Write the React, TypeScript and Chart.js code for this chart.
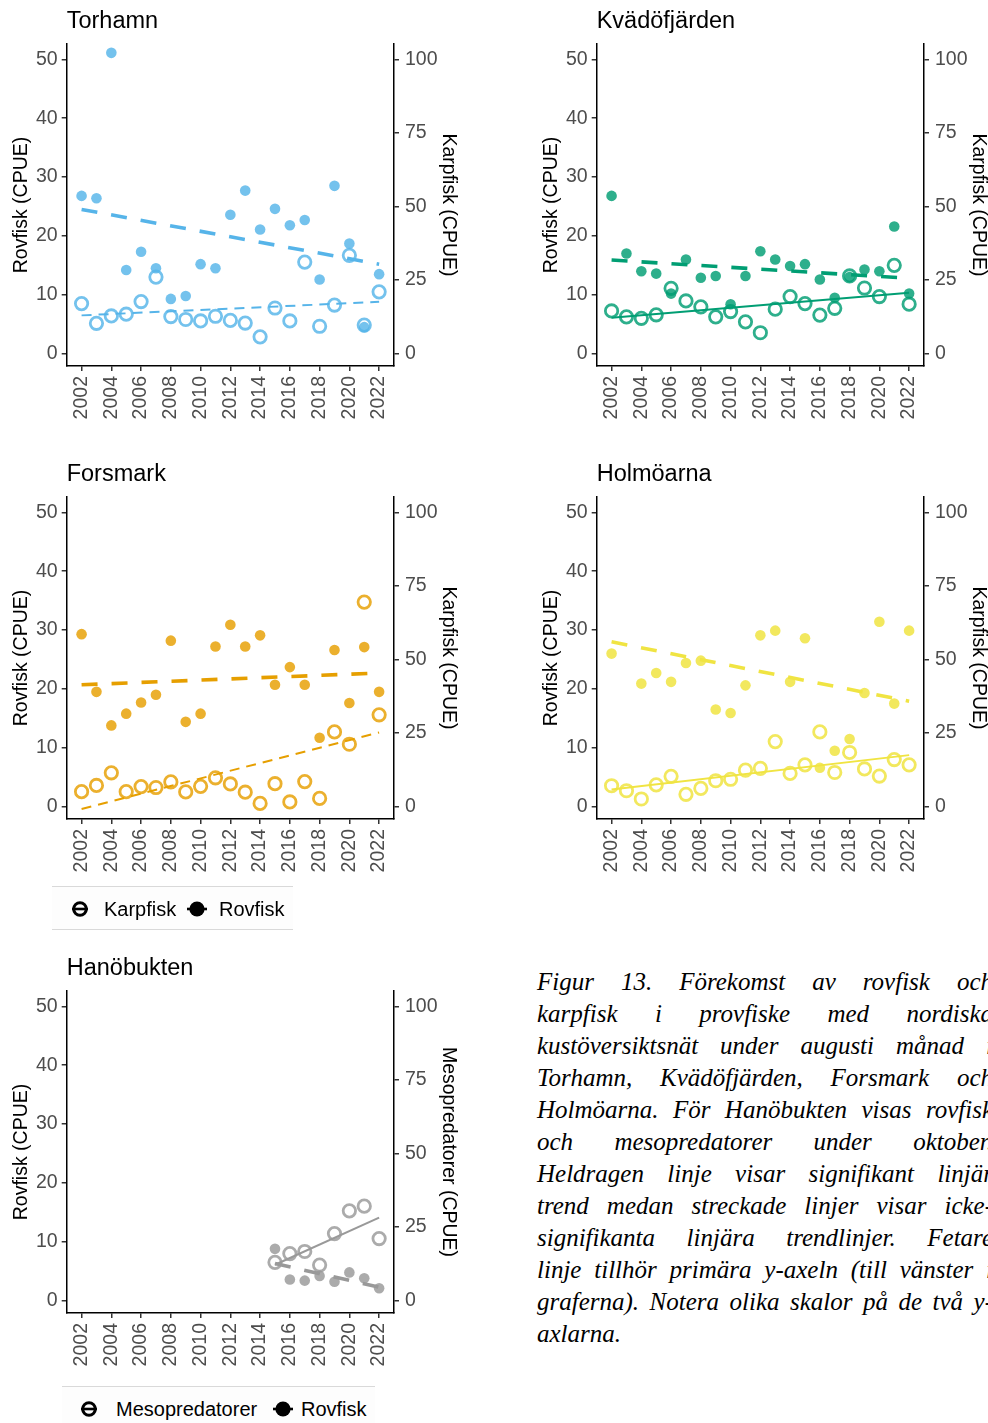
import React, { useEffect, useRef } from "react";
import { Chart, registerables } from "chart.js";

Chart.register(...registerables);

// ---------- data ----------
const years = [2002, 2003, 2004, 2005, 2006, 2007, 2008, 2009, 2010, 2011, 2012, 2013, 2014, 2015, 2016, 2017, 2018, 2019, 2020, 2021, 2022];
const hanoYears = [2015, 2016, 2017, 2018, 2019, 2020, 2021, 2022];
const yearTicks = [2002, 2004, 2006, 2008, 2010, 2012, 2014, 2016, 2018, 2020, 2022];
const leftTicks = [0, 10, 20, 30, 40, 50];
const rightTicks = [0, 25, 50, 75, 100];
const trendYears = [2002, 2022];
const hanoTrendYears = [2015, 2022];

const torhamnRovfisk = [26.8, 26.4, 51.1, 14.2, 17.3, 14.5, 9.3, 9.8, 15.2, 14.5, 23.6, 27.7, 21.1, 24.6, 21.8, 22.7, 12.6, 28.5, 18.7, 4.5, 13.5];
const torhamnKarpfisk = [17.0, 10.3, 12.8, 13.4, 17.7, 26.0, 12.6, 11.6, 11.1, 12.7, 11.3, 10.4, 5.7, 15.5, 11.1, 31.1, 9.3, 16.5, 33.4, 9.7, 21.0];
const torhamnRovTrend = [24.5, 15.2];
const torhamnKarpTrend = [13.0, 17.6];

const kvadoRovfisk = [26.8, 17.0, 14.0, 13.6, 10.2, 16.0, 12.9, 13.2, 8.4, 13.2, 17.4, 16.0, 14.9, 15.2, 12.6, 9.5, 13.0, 14.3, 14.0, 21.6, 10.2];
const kvadoKarpfisk = [14.5, 12.5, 12.0, 13.2, 22.2, 17.9, 15.9, 12.5, 14.3, 10.8, 7.1, 15.1, 19.4, 17.0, 13.1, 15.4, 26.4, 22.3, 19.4, 30.0, 16.8];
const kvadoRovTrend = [15.9, 12.8];
const kvadoKarpTrend = [12.2, 20.7];

const forsmarkRovfisk = [29.3, 19.5, 13.8, 15.8, 17.7, 19.0, 28.2, 14.4, 15.8, 27.2, 30.9, 27.2, 29.1, 20.7, 23.7, 20.7, 11.7, 26.6, 17.6, 27.1, 19.5];
const forsmarkKarpfisk = [5.1, 7.2, 11.5, 5.1, 6.8, 6.5, 8.4, 5.0, 6.9, 9.8, 7.7, 4.9, 1.1, 7.8, 1.6, 8.5, 2.8, 25.4, 21.2, 69.5, 31.2];
const forsmarkRovTrend = [20.7, 22.7];
const forsmarkKarpTrend = [-0.8, 25.2];

const holmoRovfisk = [26.0, null, 20.9, 22.7, 21.2, 24.4, 24.8, 16.5, 15.9, 20.6, 29.1, 29.9, 21.2, 28.6, 6.6, 9.5, 11.5, 19.3, 31.4, 17.5, 29.9];
const holmoKarpfisk = [7.1, 5.4, 2.6, 7.4, 10.3, 4.2, 6.2, 8.8, 9.3, 12.4, 13.0, 22.1, 11.3, 14.2, 25.4, 11.6, 18.4, 12.8, 10.4, 16.0, 14.2];
const holmoRovTrend = [28.0, 17.9];
const holmoKarpTrend = [5.8, 17.5];

const hanoRovfisk = [8.8, 3.6, 3.4, 4.2, 3.2, 4.8, 3.8, 2.1];
const hanoMeso = [13.0, 16.0, 16.7, 12.1, 22.8, 30.5, 32.1, 21.1];
const hanoRovTrend = [6.3, 2.3];
const hanoMesoTrend = [12.2, 28.2];

const captionLines = [
  "Figur 13. Förekomst av rovfisk och",
  "karpfisk i provfiske med nordiska",
  "kustöversiktsnät under augusti månad i",
  "Torhamn, Kvädöfjärden, Forsmark och",
  "Holmöarna. För Hanöbukten visas rovfisk",
  "och mesopredatorer under oktober.",
  "Heldragen linje visar signifikant linjär",
  "trend medan streckade linjer visar icke-",
  "signifikanta linjära trendlinjer. Fetare",
  "linje tillhör primära y-axeln (till vänster i",
  "graferna). Notera olika skalor på de två y-",
  "axlarna.",
];

// ---------- styling ----------
const SANS = '"Liberation Sans", Arial, sans-serif';
const CW = 494;
const CH = 440;

type Panel = {
  title: string;
  color: string;
  fill: string;
  x: number[];
  rov: (number | null)[];
  karp: (number | null)[];
  tx: number[];
  rovTrend: number[];
  karpTrend: number[];
  karpSolid: boolean;
  rightTitle: string;
  left: number;
  top: number;
};

const panels: Panel[] = [
  { title: "Torhamn", color: "#56B4E9", fill: "rgba(86,180,233,0.82)", x: years, rov: torhamnRovfisk, karp: torhamnKarpfisk, tx: trendYears, rovTrend: torhamnRovTrend, karpTrend: torhamnKarpTrend, karpSolid: false, rightTitle: "Karpfisk (CPUE)", left: 0, top: 1 },
  { title: "Kvädöfjärden", color: "#009E73", fill: "rgba(0,158,115,0.82)", x: years, rov: kvadoRovfisk, karp: kvadoKarpfisk, tx: trendYears, rovTrend: kvadoRovTrend, karpTrend: kvadoKarpTrend, karpSolid: true, rightTitle: "Karpfisk (CPUE)", left: 530, top: 1 },
  { title: "Forsmark", color: "#E69F00", fill: "rgba(230,159,0,0.82)", x: years, rov: forsmarkRovfisk, karp: forsmarkKarpfisk, tx: trendYears, rovTrend: forsmarkRovTrend, karpTrend: forsmarkKarpTrend, karpSolid: false, rightTitle: "Karpfisk (CPUE)", left: 0, top: 453.6 },
  { title: "Holmöarna", color: "#F0E442", fill: "rgba(240,228,66,0.85)", x: years, rov: holmoRovfisk, karp: holmoKarpfisk, tx: trendYears, rovTrend: holmoRovTrend, karpTrend: holmoKarpTrend, karpSolid: true, rightTitle: "Karpfisk (CPUE)", left: 530, top: 453.6 },
  { title: "Hanöbukten", color: "#999999", fill: "rgba(153,153,153,0.82)", x: hanoYears, rov: hanoRovfisk, karp: hanoMeso, tx: hanoTrendYears, rovTrend: hanoRovTrend, karpTrend: hanoMesoTrend, karpSolid: true, rightTitle: "Mesopredatorer (CPUE)", left: 0, top: 947.7 },
];

function pts(xs: number[], ys: (number | null)[]) {
  return xs.map((x, i) => ({ x, y: ys[i] }));
}

function PanelChart({ p }: { p: Panel }) {
  const ref = useRef<HTMLCanvasElement>(null);
  useEffect(() => {
    if (!ref.current) return;
    const tickFont = { family: SANS, size: 19.5 };
    const gridCfg = { drawOnChartArea: false, drawTicks: true, tickLength: 5, color: "#333333", lineWidth: 1.5 };
    const borderCfg = { display: true, color: "#000000", width: 1.5 };
    const chart = new Chart(ref.current, {
      type: "scatter",
      data: {
        datasets: [
          { data: pts(p.tx, p.rovTrend), yAxisID: "y", showLine: true, borderColor: p.color, borderWidth: 3.6, borderDash: [16, 14], pointRadius: 0, fill: false } as any,
          { data: pts(p.tx, p.karpTrend), yAxisID: "y2", showLine: true, borderColor: p.color, borderWidth: 2, borderDash: p.karpSolid ? [] : [10, 7], pointRadius: 0, fill: false } as any,
          { data: pts(p.x, p.rov), yAxisID: "y", pointRadius: 5.3, pointBackgroundColor: p.fill, pointBorderWidth: 0, backgroundColor: p.fill, borderWidth: 0 } as any,
          { data: pts(p.x, p.karp), yAxisID: "y2", pointRadius: 6.2, pointBackgroundColor: "rgba(0,0,0,0)", pointBorderColor: p.fill, pointBorderWidth: 2.8, backgroundColor: "rgba(0,0,0,0)", borderColor: p.fill, borderWidth: 2.8 } as any,
        ],
      },
      options: {
        responsive: false,
        animation: false,
        events: [],
        layout: { padding: 0 },
        plugins: {
          legend: { display: false },
          tooltip: { enabled: false },
          title: {
            display: true,
            text: p.title,
            align: "start",
            fullSize: false,
            color: "#000000",
            font: { family: SANS, size: 23.5, weight: "normal" },
            padding: { top: 6.8, bottom: 8.0 },
          },
        },
        scales: {
          x: {
            type: "linear",
            min: 2001,
            max: 2023,
            afterBuildTicks: (s: any) => { s.ticks = yearTicks.map((v) => ({ value: v })); },
            afterFit: (s: any) => { s.height = 75; },
            grid: gridCfg,
            border: borderCfg,
            ticks: { font: tickFont, color: "#4d4d4d", minRotation: 90, maxRotation: 90, padding: 5, autoSkip: false, callback: (v: any) => String(v) },
          },
          y: {
            type: "linear",
            position: "left",
            min: -2.1,
            max: 52.6,
            afterBuildTicks: (s: any) => { s.ticks = leftTicks.map((v) => ({ value: v })); },
            afterFit: (s: any) => { s.width = 66.7; },
            grid: gridCfg,
            border: borderCfg,
            ticks: { font: tickFont, color: "#4d4d4d", padding: 4, callback: (v: any) => String(v) },
            title: { display: true, text: "Rovfisk (CPUE)", color: "#000000", font: { family: SANS, size: 19.5 }, padding: { top: 10, bottom: 0 } },
          },
          y2: {
            type: "linear",
            position: "right",
            min: -4.2,
            max: 105.2,
            afterBuildTicks: (s: any) => { s.ticks = rightTicks.map((v) => ({ value: v })); },
            afterFit: (s: any) => { s.width = CW - 394; },
            grid: gridCfg,
            border: borderCfg,
            ticks: { font: tickFont, color: "#4d4d4d", padding: 6, callback: (v: any) => String(v) },
            title: { display: true, text: p.rightTitle, color: "#000000", font: { family: SANS, size: 19.5 }, padding: { top: 34.3, bottom: 0 } },
          },
        },
      } as any,
    });
    return () => chart.destroy();
  }, [p]);
  return <canvas ref={ref} width={CW} height={CH} style={{ position: "absolute", left: p.left, top: p.top }} />;
}

function OpenIcon({ cx, cy }: { cx: number; cy: number }) {
  return (
    <svg width={22} height={22} style={{ position: "absolute", left: cx - 11, top: cy - 11 }}>
      <circle cx={11} cy={11} r={6.3} fill="none" stroke="#000" strokeWidth={3} />
      <line x1={3} y1={11} x2={19} y2={11} stroke="#000" strokeWidth={2.6} />
    </svg>
  );
}

function FilledIcon({ cx, cy }: { cx: number; cy: number }) {
  return (
    <svg width={24} height={22} style={{ position: "absolute", left: cx - 12, top: cy - 11 }}>
      <line x1={2} y1={11} x2={22} y2={11} stroke="#000" strokeWidth={2.6} />
      <circle cx={12} cy={11} r={7.6} fill="#000" />
    </svg>
  );
}

function Legend({ left, top, width, openLabel, openIconX, openTextX, fillIconX, fillTextX }: any) {
  const textStyle: React.CSSProperties = { position: "absolute", top: 0, lineHeight: "45px", fontFamily: SANS, fontSize: 20, color: "#000", whiteSpace: "nowrap" };
  return (
    <div style={{ position: "absolute", left, top, width, height: 44, boxSizing: "border-box", borderTop: "1px solid #d9d9d9", borderBottom: "1px solid #d9d9d9", background: "#fdfdfd" }}>
      <OpenIcon cx={openIconX} cy={22} />
      <span style={{ ...textStyle, left: openTextX }}>{openLabel}</span>
      <FilledIcon cx={fillIconX} cy={22} />
      <span style={{ ...textStyle, left: fillTextX }}>Rovfisk</span>
    </div>
  );
}

export default function App() {
  return (
    <div style={{ position: "absolute", left: 0, top: 0, width: 988, height: 1423, overflow: "hidden", background: "#ffffff" }}>
      {panels.map((p) => (
        <PanelChart key={p.title} p={p} />
      ))}
      <Legend left={52} top={886} width={241} openLabel="Karpfisk" openIconX={28} openTextX={52} fillIconX={145} fillTextX={167} />
      <Legend left={62} top={1386} width={313} openLabel="Mesopredatorer" openIconX={27} openTextX={54} fillIconX={221} fillTextX={239} />
      <div style={{ position: "absolute", left: 537, top: 966, width: 456, fontFamily: '"Liberation Serif", "Times New Roman", serif', fontStyle: "italic", fontSize: 25, lineHeight: "32px", color: "#000" }}>
        {captionLines.map((line, i) => (
          <div key={i} style={{ textAlign: i === captionLines.length - 1 ? "left" : "justify", textAlignLast: i === captionLines.length - 1 ? "left" : "justify", whiteSpace: "nowrap" } as React.CSSProperties}>
            {line}
          </div>
        ))}
      </div>
    </div>
  );
}
